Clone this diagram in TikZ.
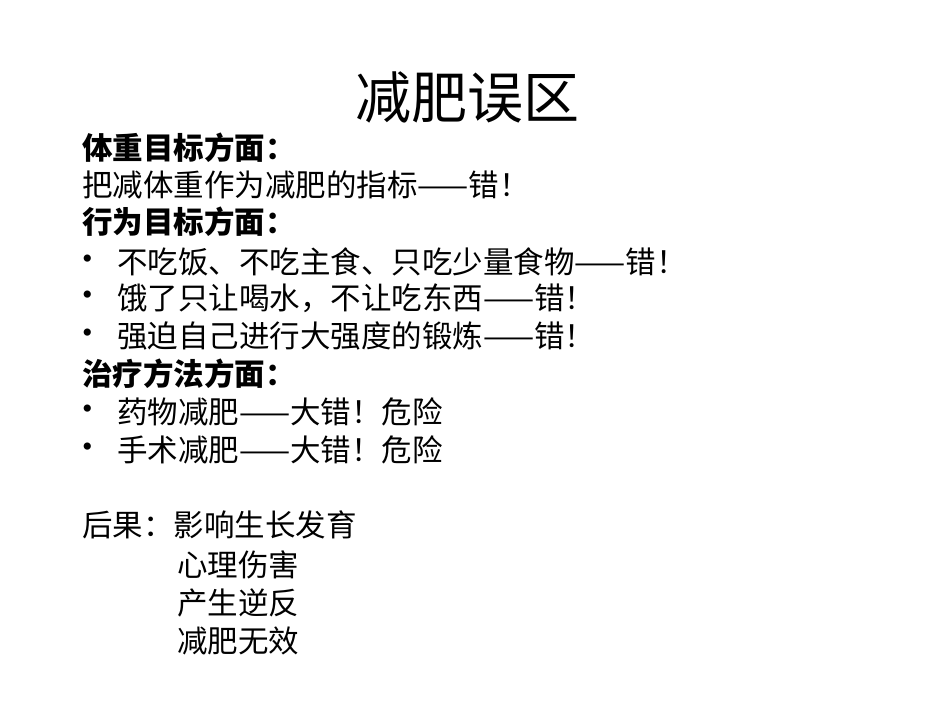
\documentclass[tikz,border=0pt]{standalone}
\usepackage{fontspec}
\setmainfont{Noto Sans CJK SC}
\newfontfamily\bul{Liberation Serif}
\begin{document}
\begin{tikzpicture}[x=1pt,y=-1pt,
  t/.style={anchor=west,inner sep=0pt,font=\fontsize{30.5}{32}\selectfont},
  h/.style={t,font=\fontsize{30.5}{32}\selectfont\bfseries},
  b/.style={anchor=west,inner sep=0pt,font=\fontsize{30}{32}\selectfont\bul}]
\useasboundingbox (0,0) rectangle (950,713);
\node[inner sep=0pt,font=\fontsize{56}{60}\selectfont] (title) at (467,97) {减肥误区};
\node[h] (h1) at (82,148) {体重目标方面：};
\node[t] (l1) at (82,185) {把减体重作为减肥的指标——错！};
\node[h] (h2) at (82,222) {行为目标方面：};
\node[b] (b1) at (82,262) {•};
\node[t] (l2) at (117,262) {不吃饭、不吃主食、只吃少量食物——错！};
\node[b] (b2) at (82,298) {•};
\node[t] (l3) at (117,298) {饿了只让喝水，不让吃东西——错！};
\node[b] (b3) at (82,336) {•};
\node[t] (l4) at (117,336) {强迫自己进行大强度的锻炼——错！};
\node[h] (h3) at (82,374) {治疗方法方面：};
\node[b] (b4) at (82,412) {•};
\node[t] (l5) at (117,412) {药物减肥——大错！危险};
\node[b] (b5) at (82,450) {•};
\node[t] (l6) at (117,450) {手术减肥——大错！危险};
\node[t] (r0) at (82,525) {后果：影响生长发育};
\node[t] (r1) at (177,565) {心理伤害};
\node[t] (r2) at (177,603) {产生逆反};
\node[t] (r3) at (177,641) {减肥无效};
\end{tikzpicture}
\end{document}
